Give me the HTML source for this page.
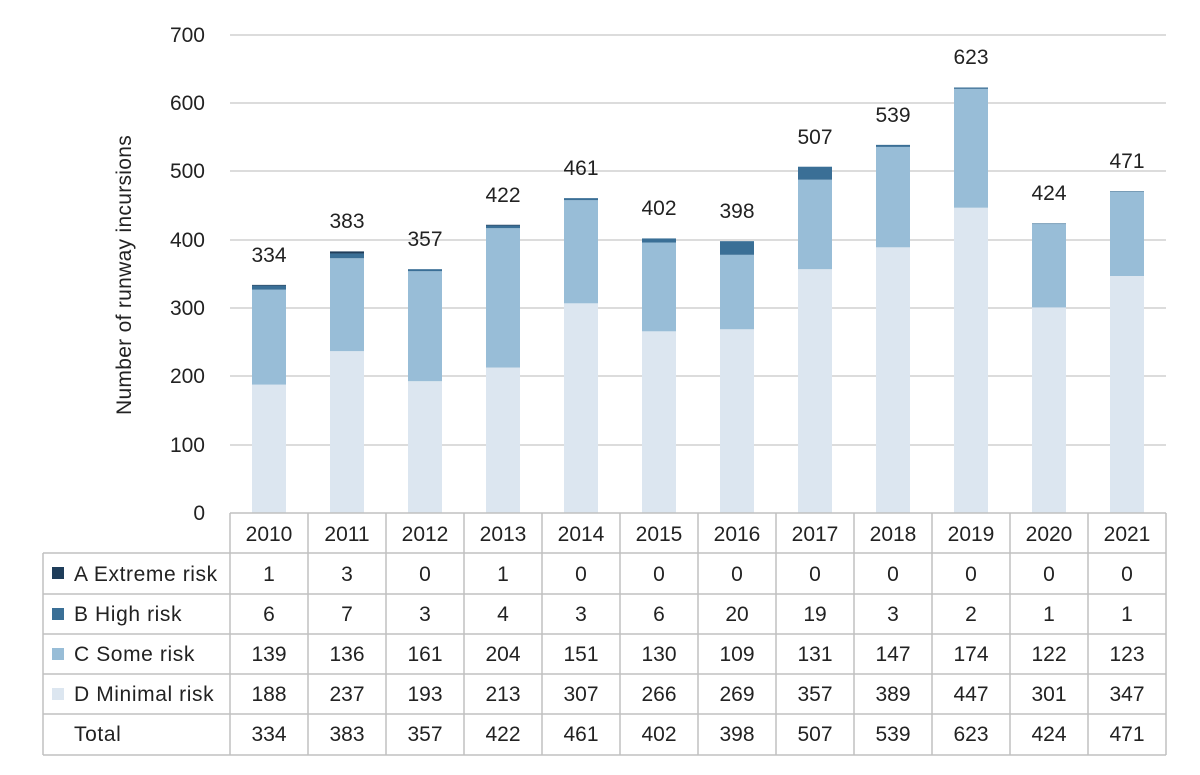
<!DOCTYPE html>
<html><head><style>body{margin:0;background:#fff}svg{display:block}text{font-family:"Liberation Sans",sans-serif;fill:#222}</style></head><body>
<svg width="1200" height="775" viewBox="0 0 1200 775">
<g stroke="#d0d0d0" stroke-width="1.5">
<line x1="230" x2="1166" y1="35" y2="35"/><line x1="230" x2="1166" y1="103" y2="103"/><line x1="230" x2="1166" y1="171" y2="171"/><line x1="230" x2="1166" y1="240" y2="240"/><line x1="230" x2="1166" y1="308" y2="308"/><line x1="230" x2="1166" y1="376" y2="376"/><line x1="230" x2="1166" y1="445" y2="445"/>
</g>
<g font-size="21" text-anchor="end">
<text x="205" y="42">700</text><text x="205" y="110">600</text><text x="205" y="178">500</text><text x="205" y="247">400</text><text x="205" y="315">300</text><text x="205" y="383">200</text><text x="205" y="452">100</text><text x="205" y="520">0</text>
</g>
<text transform="translate(131,275) rotate(-90)" font-size="21" text-anchor="middle" letter-spacing="0.3">Number of runway incursions</text>
<g transform="translate(0,513) scale(1,-0.683)">
<g fill="#dce6f0">
<rect x="252" width="34" y="0" height="188"/><rect x="330" width="34" y="0" height="237"/><rect x="408" width="34" y="0" height="193"/><rect x="486" width="34" y="0" height="213"/><rect x="564" width="34" y="0" height="307"/><rect x="642" width="34" y="0" height="266"/><rect x="720" width="34" y="0" height="269"/><rect x="798" width="34" y="0" height="357"/><rect x="876" width="34" y="0" height="389"/><rect x="954" width="34" y="0" height="447"/><rect x="1032" width="34" y="0" height="301"/><rect x="1110" width="34" y="0" height="347"/>
</g>
<g fill="#98bdd7">
<rect x="252" width="34" y="188" height="139"/><rect x="330" width="34" y="237" height="136"/><rect x="408" width="34" y="193" height="161"/><rect x="486" width="34" y="213" height="204"/><rect x="564" width="34" y="307" height="151"/><rect x="642" width="34" y="266" height="130"/><rect x="720" width="34" y="269" height="109"/><rect x="798" width="34" y="357" height="131"/><rect x="876" width="34" y="389" height="147"/><rect x="954" width="34" y="447" height="174"/><rect x="1032" width="34" y="301" height="122"/><rect x="1110" width="34" y="347" height="123"/>
</g>
<g fill="#3a6f96">
<rect x="252" width="34" y="327" height="6"/><rect x="330" width="34" y="373" height="7"/><rect x="408" width="34" y="354" height="3"/><rect x="486" width="34" y="417" height="4"/><rect x="564" width="34" y="458" height="3"/><rect x="642" width="34" y="396" height="6"/><rect x="720" width="34" y="378" height="20"/><rect x="798" width="34" y="488" height="19"/><rect x="876" width="34" y="536" height="3"/><rect x="954" width="34" y="621" height="2"/><rect x="1032" width="34" y="423" height="1"/><rect x="1110" width="34" y="470" height="1"/>
</g>
<g fill="#1f3d5a">
<rect x="252" width="34" y="333" height="1"/><rect x="330" width="34" y="380" height="3"/><rect x="486" width="34" y="421" height="1"/>
</g>
</g>
<g font-size="21" text-anchor="middle">
<text x="269" y="262">334</text><text x="347" y="228">383</text><text x="425" y="246">357</text><text x="503" y="202">422</text><text x="581" y="175">461</text><text x="659" y="215">402</text><text x="737" y="218">398</text><text x="815" y="144">507</text><text x="893" y="122">539</text><text x="971" y="64">623</text><text x="1049" y="200">424</text><text x="1127" y="168">471</text>
</g>
<g stroke="#c0c0c0" stroke-width="1.5" fill="none">
<line x1="230" x2="1166" y1="513" y2="513"/>
<line x1="43" x2="1166" y1="553" y2="553"/><line x1="43" x2="1166" y1="594" y2="594"/><line x1="43" x2="1166" y1="634" y2="634"/><line x1="43" x2="1166" y1="674" y2="674"/><line x1="43" x2="1166" y1="714" y2="714"/><line x1="43" x2="1166" y1="755" y2="755"/>
<line x1="43" x2="43" y1="553" y2="755"/>
<line x1="230" x2="230" y1="513" y2="755"/><line x1="308" x2="308" y1="513" y2="755"/><line x1="386" x2="386" y1="513" y2="755"/><line x1="464" x2="464" y1="513" y2="755"/><line x1="542" x2="542" y1="513" y2="755"/><line x1="620" x2="620" y1="513" y2="755"/><line x1="698" x2="698" y1="513" y2="755"/><line x1="776" x2="776" y1="513" y2="755"/><line x1="854" x2="854" y1="513" y2="755"/><line x1="932" x2="932" y1="513" y2="755"/><line x1="1010" x2="1010" y1="513" y2="755"/><line x1="1088" x2="1088" y1="513" y2="755"/><line x1="1166" x2="1166" y1="513" y2="755"/>
</g>
<rect x="52" y="567" width="12" height="12" fill="#1f3d5a"/>
<rect x="52" y="608" width="12" height="12" fill="#3a6f96"/>
<rect x="52" y="648" width="12" height="12" fill="#98bdd7"/>
<rect x="52" y="688" width="12" height="12" fill="#dce6f0"/>
<g font-size="21" letter-spacing="0.6">
<text x="74" y="581">A Extreme risk</text><text x="74" y="621">B High risk</text><text x="74" y="661">C Some risk</text><text x="74" y="701">D Minimal risk</text><text x="74" y="741">Total</text>
</g>
<g font-size="21" text-anchor="middle">
<text y="541"><tspan x="269">2010</tspan><tspan x="347">2011</tspan><tspan x="425">2012</tspan><tspan x="503">2013</tspan><tspan x="581">2014</tspan><tspan x="659">2015</tspan><tspan x="737">2016</tspan><tspan x="815">2017</tspan><tspan x="893">2018</tspan><tspan x="971">2019</tspan><tspan x="1049">2020</tspan><tspan x="1127">2021</tspan></text>
<text y="581"><tspan x="269">1</tspan><tspan x="347">3</tspan><tspan x="425">0</tspan><tspan x="503">1</tspan><tspan x="581">0</tspan><tspan x="659">0</tspan><tspan x="737">0</tspan><tspan x="815">0</tspan><tspan x="893">0</tspan><tspan x="971">0</tspan><tspan x="1049">0</tspan><tspan x="1127">0</tspan></text>
<text y="621"><tspan x="269">6</tspan><tspan x="347">7</tspan><tspan x="425">3</tspan><tspan x="503">4</tspan><tspan x="581">3</tspan><tspan x="659">6</tspan><tspan x="737">20</tspan><tspan x="815">19</tspan><tspan x="893">3</tspan><tspan x="971">2</tspan><tspan x="1049">1</tspan><tspan x="1127">1</tspan></text>
<text y="661"><tspan x="269">139</tspan><tspan x="347">136</tspan><tspan x="425">161</tspan><tspan x="503">204</tspan><tspan x="581">151</tspan><tspan x="659">130</tspan><tspan x="737">109</tspan><tspan x="815">131</tspan><tspan x="893">147</tspan><tspan x="971">174</tspan><tspan x="1049">122</tspan><tspan x="1127">123</tspan></text>
<text y="701"><tspan x="269">188</tspan><tspan x="347">237</tspan><tspan x="425">193</tspan><tspan x="503">213</tspan><tspan x="581">307</tspan><tspan x="659">266</tspan><tspan x="737">269</tspan><tspan x="815">357</tspan><tspan x="893">389</tspan><tspan x="971">447</tspan><tspan x="1049">301</tspan><tspan x="1127">347</tspan></text>
<text y="741"><tspan x="269">334</tspan><tspan x="347">383</tspan><tspan x="425">357</tspan><tspan x="503">422</tspan><tspan x="581">461</tspan><tspan x="659">402</tspan><tspan x="737">398</tspan><tspan x="815">507</tspan><tspan x="893">539</tspan><tspan x="971">623</tspan><tspan x="1049">424</tspan><tspan x="1127">471</tspan></text>
</g>
</svg>
</body></html>
